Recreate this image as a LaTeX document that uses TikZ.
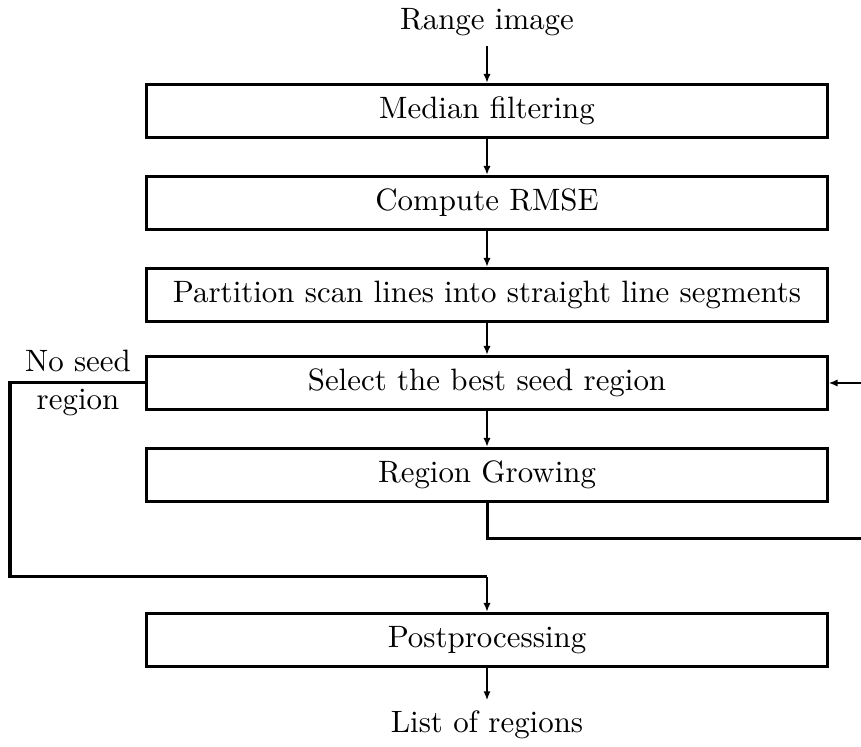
\documentclass[tikz,border=0pt]{standalone}
\usetikzlibrary{arrows.meta}
\begin{document}
\begin{tikzpicture}
  % stages of the segmentation, one box per step
  [x=0.3333pt, y=-0.3333pt,
   font=\fontsize{10.3}{12.4}\selectfont,
   stage/.style={draw, line width=1pt, minimum width=226.7pt, minimum height=17.7pt,
     inner sep=0pt},
   flow/.style={line width=0.8pt, -{Latex[length=3pt,width=2.4pt]}},
   wire/.style={line width=1pt}]
  \useasboundingbox (0,0) rectangle (861,747);
  \node (src) at (487,22) {Range image};
  \node[stage] (median) at (487,111) {Median filtering};
  \node[stage] (rmse) at (487,203) {Compute RMSE};
  \node[stage] (part) at (487,295) {Partition scan lines into straight line segments};
  \node[stage] (select) at (487,383) {Select the best seed region};
  \node[stage] (grow) at (487,475) {Region Growing};
  \node[stage] (post) at (487,640) {Postprocessing};
  \node (out) at (487,725) {List of regions};
  \node[align=center, inner sep=0pt] (noseed) at (78,383) {No seed\\region};
  % straight path down
  \draw[flow] (src) -- (median);
  \draw[flow] (median) -- (rmse);
  \draw[flow] (rmse) -- (part);
  \draw[flow] (part) -- (select);
  \draw[flow] (select) -- (grow);
  \draw[flow] (post) -- (out);
  % back to the seed selection
  \coordinate (gb) at (487,539);
  \coordinate (rb) at (864,539);
  \coordinate (rt) at (864,383);
  \draw[wire] (grow.south) -- (gb) -- (rb) -- (rt);
  \draw[flow] (rt) -- (select.east);
  % no seed left: go to postprocessing
  \coordinate (lt) at (10,383);
  \coordinate (lb) at (10,577);
  \draw[wire] (select.west) -- (lt) -- (lb) -- (gb |- lb);
  \draw[flow] (gb |- lb) -- (post.north);
\end{tikzpicture}
\end{document}
